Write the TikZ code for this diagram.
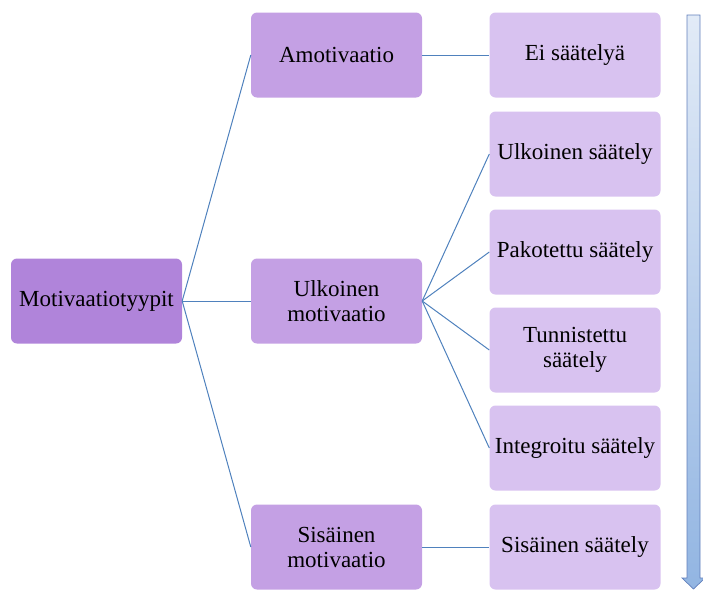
\documentclass[tikz,border=0pt]{standalone}
\usepackage{fontspec}
\setmainfont{Liberation Serif}
\usetikzlibrary{positioning, shapes.geometric, arrows.meta}
\definecolor{typfill}{RGB}{176,132,218}
\definecolor{midfill}{RGB}{196,160,228}
\definecolor{rightfill}{RGB}{216,194,240}
\definecolor{linkblue}{RGB}{79,129,189}
\definecolor{arrowtop}{RGB}{226,235,247}
\definecolor{arrowbot}{RGB}{146,181,226}
\definecolor{arrowline}{RGB}{98,128,188}

\begin{document}
\begin{tikzpicture}[x=1pt, y=-1pt,
		box/.style={rounded corners=6pt, minimum width=171pt, minimum height=85pt, inner sep=2pt, align=center, font=\fontsize{23}{25}\selectfont},
		typbox/.style={box, fill=typfill},
		midbox/.style={box, fill=midfill},
		rightbox/.style={box, fill=rightfill},
		link/.style={draw=linkblue, line width=1pt}]
		\useasboundingbox (0,0) rectangle (703,590);

		\node[typbox] (typ) at (96.5, 301) {Motivaatiotyypit};

		\node[midbox] (amo) at (336.5, 55) {Amotivaatio};
		\node[midbox] (ulk) at (336.5, 301) {Ulkoinen\\motivaatio};
		\node[midbox] (sis) at (336.5, 547) {Sisäinen\\motivaatio};

		\node[rightbox] (eis) at (575, 55) {Ei säätelyä};
		\node[rightbox] (ulks) at (575, 154) {Ulkoinen säätely};
		\node[rightbox] (pak) at (575, 252) {Pakotettu säätely};
		\node[rightbox] (tun) at (575, 350) {Tunnistettu\\säätely};
		\node[rightbox] (int) at (575, 448) {Integroitu säätely};
		\node[rightbox] (siss) at (575, 547) {Sisäinen säätely};

		\draw[link] (typ.east) -- (amo.west);
		\draw[link] (typ.east) -- (ulk.west);
		\draw[link] (typ.east) -- (sis.west);
		\draw[link] (amo.east) -- (eis.west);
		\foreach \r in {ulks, pak, tun, int}
			\draw[link] (ulk.east) -- (\r.west);
		\draw[link] (sis.east) -- (siss.west);

		% scale arrow
		\draw[arrowline, line width=0.7pt, top color=arrowtop, bottom color=arrowbot]
			(687,15) -- (700,15) -- (700,578) -- (705,578) -- (693.5,589)
			-- (682,578) -- (687,578) -- cycle;
	\end{tikzpicture}
\end{document}
